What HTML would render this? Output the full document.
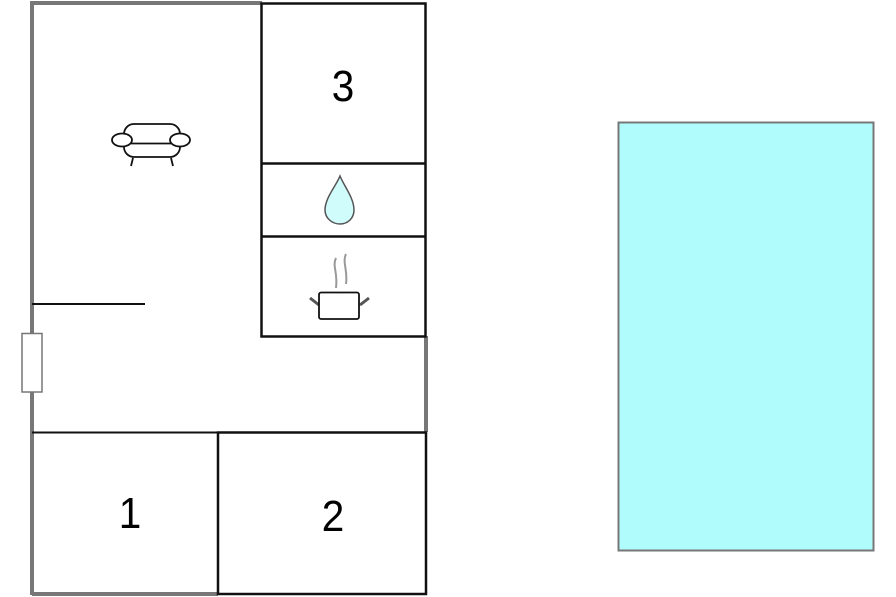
<!DOCTYPE html>
<html><head><style>html,body{margin:0;padding:0;background:#fff;width:896px;height:597px;overflow:hidden}</style></head>
<body>
<svg width="896" height="597" viewBox="0 0 896 597" xmlns="http://www.w3.org/2000/svg" style="display:block">
<rect x="0" y="0" width="896" height="597" fill="#fff"/>
<path d="M32 595 L32 3 L262 3" fill="none" stroke="#777" stroke-width="4"/>
<path d="M426 336 L426 432" fill="none" stroke="#777" stroke-width="4"/>
<path d="M32 594 L218 594" fill="none" stroke="#777" stroke-width="4"/>
<rect x="261.5" y="3.5" width="164" height="333" fill="none" stroke="#111" stroke-width="2.5"/>
<line x1="261" y1="163.5" x2="426" y2="163.5" stroke="#111" stroke-width="2.5"/>
<line x1="261" y1="236.5" x2="426" y2="236.5" stroke="#111" stroke-width="2.5"/>
<line x1="32" y1="432.5" x2="426" y2="432.5" stroke="#111" stroke-width="2"/>
<rect x="218" y="432.5" width="208" height="161.5" fill="none" stroke="#111" stroke-width="2.5"/>
<line x1="32" y1="304" x2="145" y2="304" stroke="#111" stroke-width="2"/>
<rect x="22" y="333.5" width="20" height="58.5" fill="#fff" stroke="#777" stroke-width="1.5"/>
<text x="343" y="101" font-family="Liberation Sans, sans-serif" font-size="44" text-anchor="middle" fill="#000" transform="translate(343 0) scale(0.92 1) translate(-343 0)">3</text>
<text x="130" y="528" font-family="Liberation Sans, sans-serif" font-size="44" text-anchor="middle" fill="#000" transform="translate(130 0) scale(0.92 1) translate(-130 0)">1</text>
<text x="333" y="531" font-family="Liberation Sans, sans-serif" font-size="44" text-anchor="middle" fill="#000" transform="translate(333 0) scale(0.92 1) translate(-333 0)">2</text>
<g fill="#fff" stroke="#111" stroke-width="1.8">
<rect x="124" y="124" width="56" height="33" rx="10"/>
<line x1="124" y1="143.5" x2="180" y2="143.5"/>
<ellipse cx="122" cy="140" rx="10" ry="6.5"/>
<ellipse cx="180" cy="140" rx="10" ry="6.5"/>
<line x1="133" y1="158" x2="131" y2="166"/>
<line x1="171" y1="158" x2="173" y2="166"/>
</g>
<path d="M340 176 C336 186 325 198 325 210 C325 218 332 224 340 224 C348 224 354 218 354 210 C354 198 344 186 340 176 Z" fill="#d0fcfc" stroke="#555" stroke-width="1.5"/>
<g stroke="#999" stroke-width="2" fill="none">
<path d="M336 258 C332 266 338 272 336 288"/>
<path d="M346 254 C342 262 348 270 346 284"/>
</g>
<line x1="310" y1="298" x2="319" y2="305" stroke="#555" stroke-width="3"/>
<line x1="369" y1="298" x2="360" y2="305" stroke="#555" stroke-width="3"/>
<rect x="319" y="292.5" width="40" height="26.5" rx="2" fill="#fff" stroke="#111" stroke-width="1.8"/>
<rect x="618.5" y="122.5" width="255" height="428" fill="#b0fcfc" stroke="#777" stroke-width="2"/>
</svg>
</body></html>
